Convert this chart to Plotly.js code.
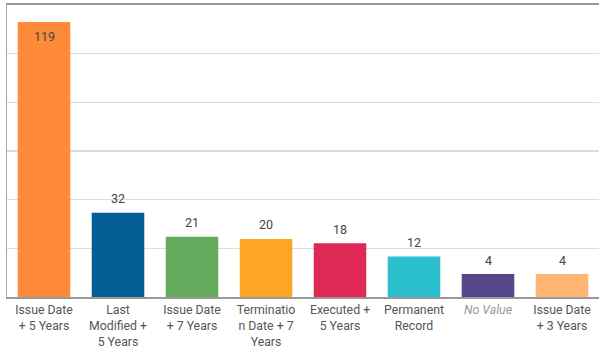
<!DOCTYPE html>
<html>
<head>
<meta charset="utf-8">
<script src="https://cdn.plot.ly/plotly-3.0.1.min.js"></script>
<style>
html,body{margin:0;padding:0;background:#fff;}
#chart{width:599px;height:347px;}
</style>
</head>
<body>
<div id="chart"></div>
<script>
const categories = [
  "Issue Date<br>+ 5 Years",
  "Last<br>Modified +<br>5 Years",
  "Issue Date<br>+ 7 Years",
  "Terminatio<br>n Date + 7<br>Years",
  "Executed +<br>5 Years",
  "Permanent<br>Record",
  "<i>No Value</i>",
  "Issue Date<br>+ 3 Years"
];
const values = [119, 32, 21, 20, 18, 12, 4, 4];
const barColors = ["#FF8A3A", "#045E96", "#66AA5E", "#FFA525", "#DE2A55", "#2CBFCE", "#56468A", "#FFB574"];
const tickColors = ["#555", "#555", "#555", "#555", "#555", "#555", "#999", "#555"];

const yMin = -6.5, yMax = 126.8, nGrid = 6;
const gridVals = [];
for (let k = 0; k <= nGrid; k++) gridVals.push(yMin + k * (yMax - yMin) / nGrid);

const keys = categories.map((c, i) => "c" + i);

const trace = {
  type: "bar",
  x: keys,
  y: values.map(v => v - yMin),
  base: yMin,
  marker: {color: barColors},
  width: 0.71,
  hoverinfo: "none"
};

const annotations = values.map((v, i) => {
  const inside = v > 0.9 * yMax;
  return {
    x: keys[i], y: v, xref: "x", yref: "y",
    text: String(v), showarrow: false,
    yanchor: "middle", yshift: inside ? -14 : 14,
    font: {family: "Roboto, sans-serif", size: 12.5, color: "#444"}
  };
});

const layout = {
  width: 599, height: 347,
  margin: {l: 7, r: 0, t: 5, b: 50},
  paper_bgcolor: "#fff", plot_bgcolor: "#fff",
  showlegend: false,
  font: {family: "Roboto, sans-serif", size: 12.3, color: "#555"},
  xaxis: {
    type: "category",
    tickvals: keys,
    ticktext: categories.map((c, i) => `<span style="fill:${tickColors[i]}">${c}</span>`),
    showline: true, linecolor: "#999", linewidth: 2, mirror: true,
    showgrid: false, ticks: "", ticklen: 0,
    tickfont: {family: "Roboto, sans-serif", size: 12.3, color: "#555"},
    fixedrange: true
  },
  yaxis: {
    range: [yMin, yMax],
    tickvals: gridVals,
    showticklabels: false,
    showgrid: true, gridcolor: "#dcdcdc", gridwidth: 1.5,
    zeroline: false,
    showline: true, linecolor: "#aaa", linewidth: 1.5,
    ticks: "",
    fixedrange: true
  },
  annotations: annotations
};

Plotly.newPlot("chart", [trace], layout, {displayModeBar: false, staticPlot: true});
</script>
</body>
</html>
